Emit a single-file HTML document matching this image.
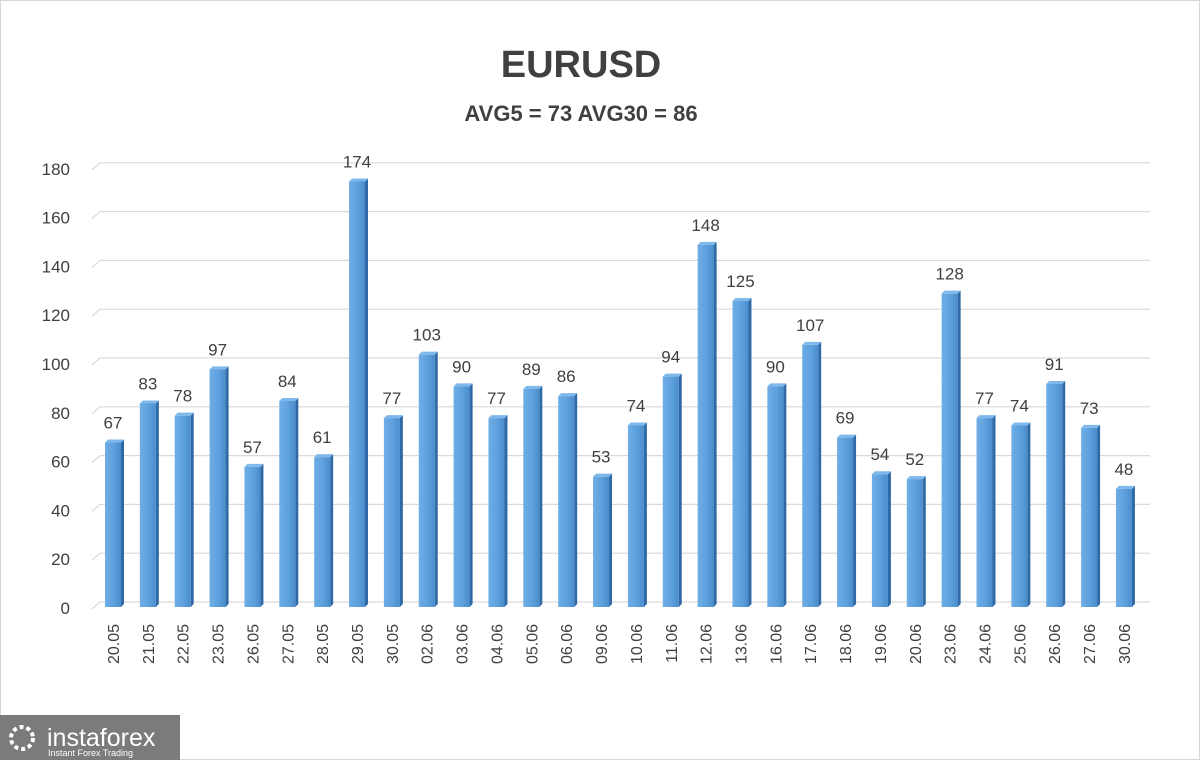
<!DOCTYPE html>
<html><head><meta charset="utf-8"><style>
body{margin:0;background:#fff;}
svg{display:block;font-family:"Liberation Sans",sans-serif;}
</style></head><body>
<svg width="1200" height="760">
<rect x="0.5" y="0.5" width="1199" height="759" fill="#fff" stroke="#d8d8d8"/>
<text x="581" y="77" text-anchor="middle" font-size="38" font-weight="bold" fill="#404040">EURUSD</text>
<text x="581" y="121" text-anchor="middle" font-size="22" font-weight="bold" fill="#404040">AVG5 = 73 AVG30 = 86</text>
<defs><linearGradient id="bg" x1="0" x2="1"><stop offset="0" stop-color="#6faee6"/><stop offset="0.6" stop-color="#5c9fdc"/><stop offset="1" stop-color="#4a8ccc"/></linearGradient></defs>
<g id="grid"></g><g id="bars"></g>
<g>
<rect x="0" y="715" width="180" height="45" fill="#7b7b7b"/>
<circle cx="22" cy="738" r="11" fill="none" stroke="#fff" stroke-width="4" stroke-dasharray="4 3"/>
<text x="47" y="746" font-size="25" fill="#fff">instaforex</text>
<text x="48" y="756" font-size="9" fill="#fff">Instant Forex Trading</text>
</g>
</svg>
<script>
const categories=["20.05","21.05","22.05","23.05","26.05","27.05","28.05","29.05","30.05","02.06","03.06","04.06","05.06","06.06","09.06","10.06","11.06","12.06","13.06","16.06","17.06","18.06","19.06","20.06","23.06","24.06","25.06","26.06","27.06","30.06"];
const values=[67,83,78,97,57,84,61,174,77,103,90,77,89,86,53,74,94,148,125,90,107,69,54,52,128,77,74,91,73,48];
const yTicks=[0,20,40,60,80,100,120,140,160,180];
const NS="http://www.w3.org/2000/svg";
const y0=606,k=2.44,x0=114,step=34.86;
const y=v=>y0-v*k, x=i=>x0+i*step;
function mk(t,a,p){const e=document.createElementNS(NS,t);for(const n in a)e.setAttribute(n,a[n]);p.appendChild(e);return e;}
const g=document.getElementById('grid'),b=document.getElementById('bars');
yTicks.forEach(t=>{
 const l=mk('line',{x1:100,y1:y(t)-4,x2:1150,y2:y(t)-4,stroke:'#d9d9d9','stroke-width':1.2},g);
 
 
 const s=mk('line',{x1:92,y1:y(t)+3,x2:100,y2:y(t)-4,stroke:'#d9d9d9','stroke-width':1.2},g);
 
 
 const tx=mk('text',{x:70,y:y(t)+8,'text-anchor':'end','font-size':17,fill:'#404040'},g);
 tx.textContent=t;
 
 
});
values.forEach((v,i)=>{
 const cx=x(i),top=y(v);
 const side=mk('polygon',{points:`${cx+7},${top} ${cx+10},${top-3} ${cx+10},${y0-2} ${cx+7},${y0+1}`,fill:'#2f6aa6'},b);
 
 
 const tp=mk('polygon',{points:`${cx-9},${top} ${cx-6},${top-3} ${cx+10},${top-3} ${cx+7},${top}`,fill:'#7fb8ea'},b);
 
 
 const r=mk('rect',{x:cx-9,y:top,width:16,height:y0+1-top,fill:'url(#bg)'},b);
 
 
 const lb=mk('text',{x:cx-1,y:top-14,'text-anchor':'middle','font-size':17,fill:'#404040'},b);
 lb.textContent=v;
 
 
 const xl=mk('text',{x:0,y:0,'text-anchor':'end','font-size':16,fill:'#404040',transform:`translate(${cx+5},624) rotate(-90)`},b);
 xl.textContent=categories[i];
 
 
});
</script>
</body></html>
